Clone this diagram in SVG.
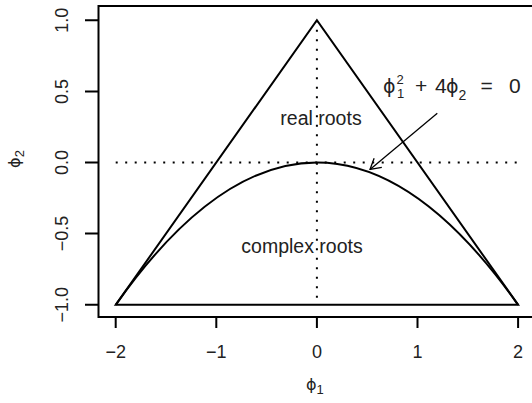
<svg xmlns="http://www.w3.org/2000/svg" width="532" height="403" viewBox="0 0 532 403">
<style>
.ax{fill:none;stroke:#000;stroke-width:2}
.curve{fill:none;stroke:#000;stroke-width:2;stroke-linejoin:miter}
.dot{fill:none;stroke:#000;stroke-width:2;stroke-dasharray:2 7.5}
.t{font-family:"Liberation Sans","DejaVu Sans",Arial,sans-serif;fill:#222}
.g{font-family:"DejaVu Sans","Liberation Sans",sans-serif}
.tick{font-size:18px}
.lab{font-size:19.5px}
.eq{font-size:21px}
</style>
<defs>
<marker id="ah" markerUnits="userSpaceOnUse" viewBox="-12 -7 13 14" refX="0" refY="0" markerWidth="13" markerHeight="14" orient="auto">
<path d="M-10.4,-6 L0,0 L-10.4,6" fill="none" stroke="#000" stroke-width="1.3"/>
</marker>
</defs>
<g id="axes">
<path class="ax" d="M540,6 H98.5 V317 H540"/>
<path class="ax" d="M85,20.2 H98.5 M85,91.5 H98.5 M85,162.5 H98.5 M85,233.6 H98.5 M85,304.8 H98.5"/>
<path class="ax" d="M115.7,317 V328 M216.3,317 V328 M316.9,317 V328 M417.5,317 V328 M518.1,317 V328"/>
<g class="t tick" text-anchor="middle">
<text x="115.7" y="357.5">−2</text>
<text x="216.3" y="357.5">−1</text>
<text x="316.9" y="357.5">0</text>
<text x="417.5" y="357.5">1</text>
<text x="518.1" y="357.5">2</text>
<text transform="translate(68,20.2) rotate(-90)">1.0</text>
<text transform="translate(68,91.5) rotate(-90)">0.5</text>
<text transform="translate(68,162.5) rotate(-90)">0.0</text>
<text transform="translate(68,233.6) rotate(-90)">−0.5</text>
<text transform="translate(68,304.8) rotate(-90)">−1.0</text>
</g>
<text class="t" font-size="18" x="306" y="390"><tspan class="g" font-size="16">ϕ</tspan><tspan font-size="13" dy="4">1</tspan></text>
<text class="t" font-size="18" text-anchor="middle" transform="translate(20,159) rotate(-90)"><tspan class="g" font-size="16">ϕ</tspan><tspan font-size="13" dy="4">2</tspan></text>
</g>
<g id="guides">
<path class="dot" d="M115.7,162.5 H518.1"/>
<path class="dot" d="M316.9,20.2 V304.8"/>
</g>
<g id="triangle">
<path class="curve" d="M115.7,304.8 L316.9,20.2 L518.1,304.8 Z"/>
</g>
<g id="parabola">
<path class="curve" d="M115.7,304.8 Q316.9,20.2 518.1,304.8"/>
</g>
<g id="real-roots">
<text class="t lab" x="321" y="125" text-anchor="middle">real roots</text>
</g>
<g id="complex-roots">
<text class="t lab" x="302" y="253.3" text-anchor="middle">complex roots</text>
</g>
<g id="equation">
<text class="t eq" y="93"><tspan class="g" x="383" y="93" font-size="19">ϕ</tspan><tspan x="396.5" y="84" font-size="13">2</tspan><tspan x="397" y="98" font-size="13">1</tspan><tspan x="415" y="93">+</tspan><tspan x="435" y="93">4</tspan><tspan class="g" x="446" y="93" font-size="19">ϕ</tspan><tspan x="458.5" y="100" font-size="14">2</tspan><tspan x="480.5" y="93">=</tspan><tspan x="509" y="93">0</tspan></text>
</g>
<g id="connectors">
<path d="M437.3,113.3 L370,169.5" fill="none" stroke="#000" stroke-width="1.3" marker-end="url(#ah)"/>
</g>
</svg>
